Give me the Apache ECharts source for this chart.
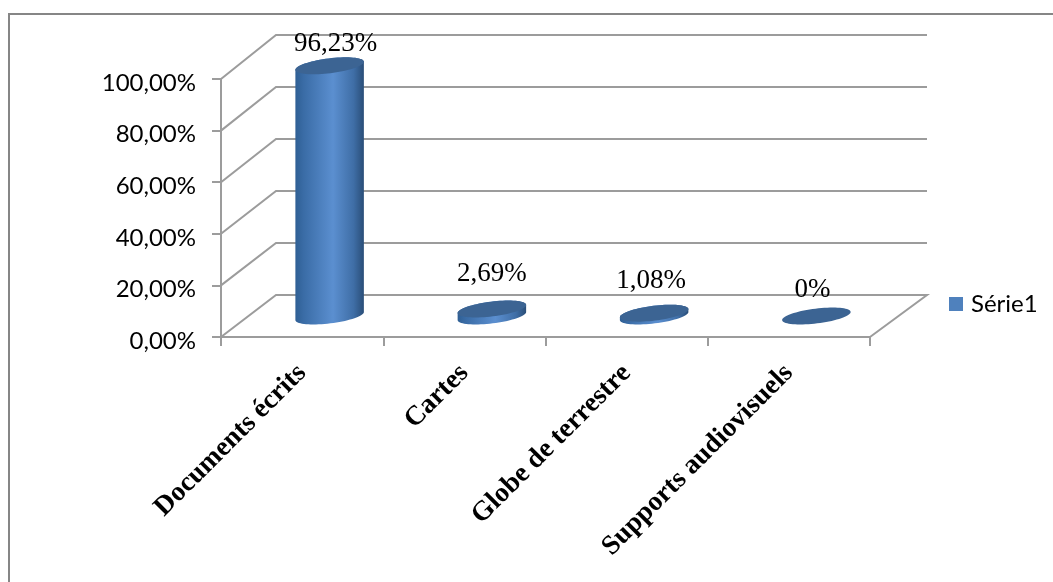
<!DOCTYPE html>
<html>
<head>
<meta charset="utf-8">
<style>html,body{margin:0;padding:0;background:#fff}#c{width:1053px;height:582px}</style>
<script src="https://cdn.jsdelivr.net/npm/echarts@6/dist/echarts.min.js"></script>
</head>
<body>
<div id="c"></div>
<script>
var categories = ['Documents écrits', 'Cartes', 'Globe de terrestre', 'Supports audiovisuels'];
var values = [96.23, 2.69, 1.08, 0];
var valueLabels = ['96,23%', '2,69%', '1,08%', '0%'];
var wallTicks = [0, 20, 40, 60, 80, 100];
var seriesName = 'Série1';

var DEPTH_X = 55, DEPTH_Y = -42, WALL_SCALE = 260 / 258;
var RX = 34.5, RY = 7.4, TILT = -7 * Math.PI / 180;
var labelNudge = [[6, -22], [0, -35], [-3, -32], [-4, -26]];
var GRID_COLOR = '#9c9c9c';

function ellipsePoint(cx, cy, t) {
  return [
    cx + RX * Math.cos(t) * Math.cos(TILT) - RY * Math.sin(t) * Math.sin(TILT),
    cy + RX * Math.cos(t) * Math.sin(TILT) + RY * Math.sin(t) * Math.cos(TILT)
  ];
}
function bodyPoints(cx, yTop, yBottom) {
  var pts = [], i, n = 36;
  for (i = 0; i <= n; i++) pts.push(ellipsePoint(cx, yBottom, Math.PI * i / n));
  for (i = 0; i <= n; i++) pts.push(ellipsePoint(cx, yTop, Math.PI + Math.PI * i / n));
  return pts;
}

var chart = echarts.init(document.getElementById('c'), null, {renderer: 'canvas'});
chart.setOption({
  animation: false,
  backgroundColor: '#fff',
  graphic: [{
    type: 'polyline', silent: true, z: 0,
    shape: {points: [[9, 582], [9, 14], [1053, 14]]},
    style: {stroke: '#868686', lineWidth: 2, fill: null}
  }],
  legend: {
    data: [seriesName], left: 944, top: 287, icon: 'rect',
    itemWidth: 14, itemHeight: 14, itemGap: 0,
    textStyle: {fontFamily: 'Lato', fontSize: 24, color: '#000', padding: [0, 0, 0, 3]}
  },
  grid: {left: 221, top: 79, width: 649, height: 258, containLabel: false},
  xAxis: {
    type: 'category', data: categories, boundaryGap: true,
    axisLine: {lineStyle: {color: GRID_COLOR, width: 2}},
    axisTick: {show: true, length: 9, lineStyle: {color: GRID_COLOR, width: 2}},
    axisLabel: {
      interval: 0, rotate: 45, margin: 32, color: '#000',
      fontFamily: 'Liberation Serif', fontWeight: 'bold', fontSize: 27.5
    }
  },
  yAxis: {
    type: 'value', min: 0, max: 100, interval: 20,
    axisLine: {show: true, lineStyle: {color: GRID_COLOR, width: 2}},
    axisTick: {show: true, length: 9, lineStyle: {color: GRID_COLOR, width: 2}},
    splitLine: {show: false},
    axisLabel: {
      margin: 25, color: '#000', fontFamily: 'Lato', fontSize: 24,
      verticalAlign: 'top', lineHeight: 8,
      formatter: function (v) { return v.toFixed(2).replace('.', ',') + '%'; }
    }
  },
  series: [{
    type: 'custom', name: 'wall', coordinateSystem: 'cartesian2d', silent: true, z: 1,
    data: wallTicks.map(function (v) { return [0, v]; }),
    renderItem: function (params, api) {
      var base = api.coord([0, 0])[1];
      var y = api.coord([0, api.value(1)])[1];
      var backY = base + DEPTH_Y - (base - y) * WALL_SCALE;
      var cs = params.coordSys;
      var pts = [[cs.x, y], [cs.x + DEPTH_X, backY], [cs.x + cs.width + DEPTH_X + 2, backY]];
      if (api.value(1) === 0) pts.push([cs.x + cs.width, y]);
      return {type: 'polyline', shape: {points: pts},
        style: {stroke: GRID_COLOR, lineWidth: 2, fill: null}};
    }
  }, {
    type: 'custom', name: seriesName, coordinateSystem: 'cartesian2d', silent: true, z: 2,
    itemStyle: {color: '#4f81bd'},
    data: values.map(function (v, i) { return [i, v]; }),
    renderItem: function (params, api) {
      var i = params.dataIndex;
      var val = api.value(1);
      var base = api.coord([i, 0]);
      var top = api.coord([i, val]);
      var cx = base[0] + DEPTH_X / 2;
      var yB = base[1] + DEPTH_Y / 2;
      var yT = yB - (base[1] - top[1]) * WALL_SCALE;
      var children = [];
      if (val > 0) {
        children.push({
          type: 'polygon', shape: {points: bodyPoints(cx, yT, yB)},
          style: {fill: new echarts.graphic.LinearGradient(0, 0, 1, 0, [
            {offset: 0, color: '#2f5f94'},
            {offset: 0.12, color: '#3a6ca6'},
            {offset: 0.55, color: '#5b8fd0'},
            {offset: 0.85, color: '#3f6ea6'},
            {offset: 1, color: '#2a4e78'}
          ])}
        });
      }
      var rim = [], k;
      for (k = 0; k < 72; k++) rim.push(ellipsePoint(cx, yT, k * Math.PI / 36));
      children.push({
        type: 'polygon', shape: {points: rim},
        style: {fill: '#3c6493'}
      });
      children.push({
        type: 'text',
        style: {
          text: valueLabels[i],
          x: cx + labelNudge[i][0], y: yT + labelNudge[i][1],
          align: 'center', verticalAlign: 'middle',
          fontFamily: 'Liberation Serif', fontSize: 27, fill: '#000'
        }
      });
      return {type: 'group', children: children};
    }
  }]
});
</script>
</body>
</html>
